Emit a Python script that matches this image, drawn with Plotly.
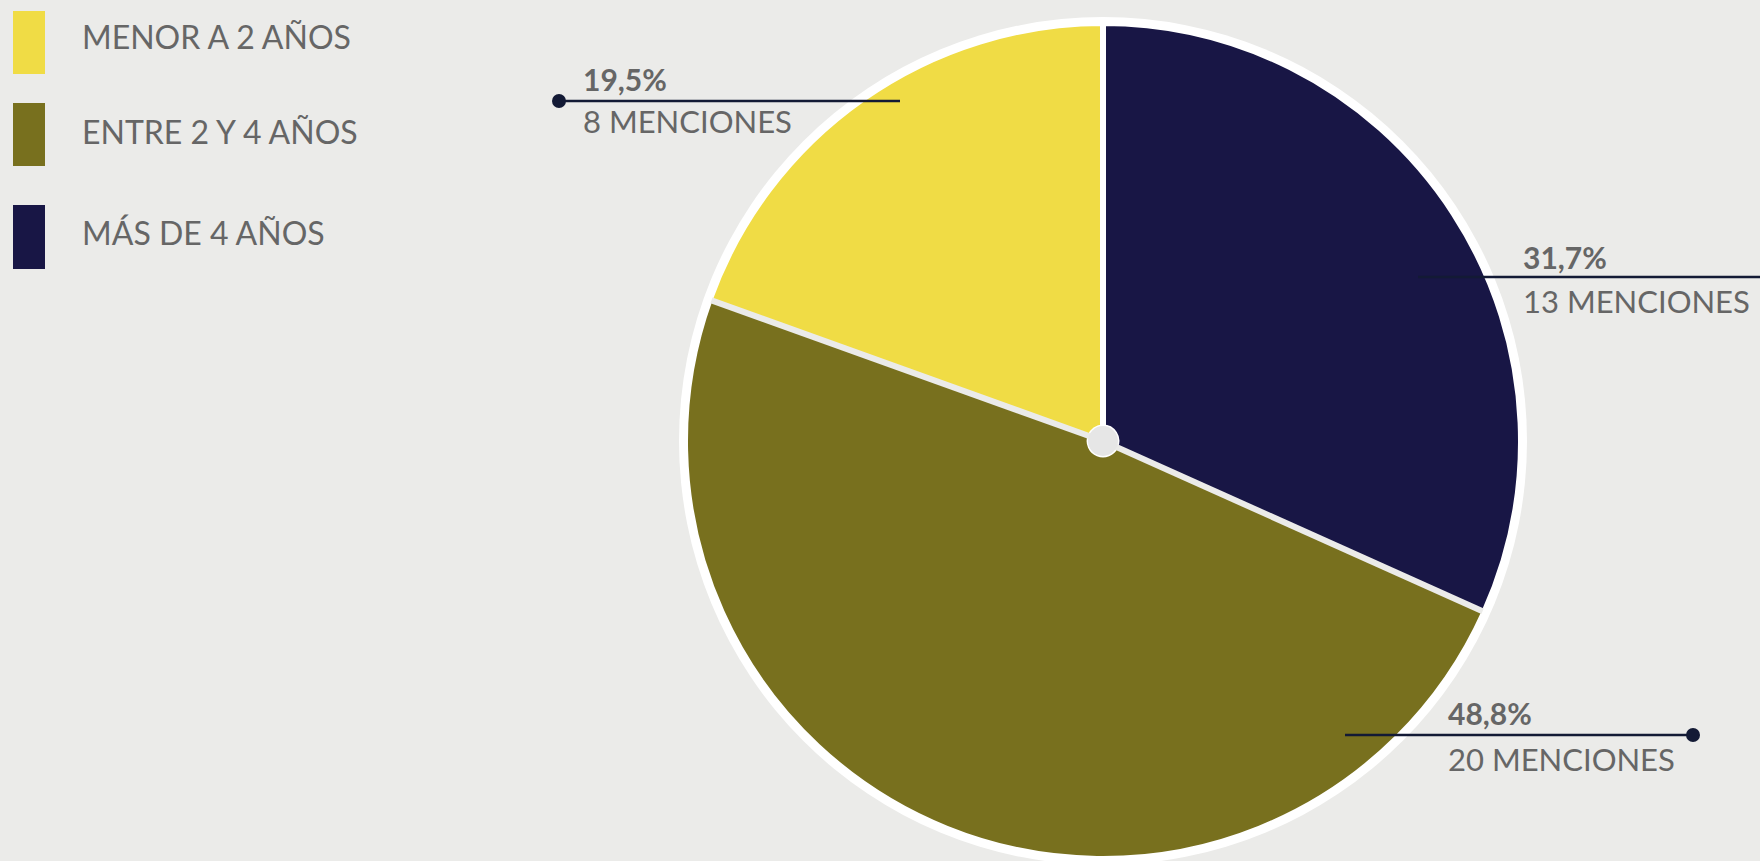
import math
import plotly.graph_objects as go

# ---- data ----
categories = ["MENOR A 2 AÑOS", "ENTRE 2 Y 4 AÑOS", "MÁS DE 4 AÑOS"]
menciones = [8, 20, 13]

# ---- style ----
W, H = 1760, 861
colors = ["#F0DC45", "#78701E", "#181645"]
bg = "#EBEBE9"
txt = "#666666"
line_col = "#131A35"
FONT = "Lato"

def px(x):
    return x / W

def py(y):
    return 1 - y / H

total = sum(menciones)
pcts = [v / total * 100 for v in menciones]

# pie geometry (pixels)
cx, cy, R_out, r = 1103, 441, 424, 416
rot = -pcts[0] * 3.6

fig = go.Figure()
fig.add_trace(go.Pie(
    labels=categories,
    values=menciones,
    sort=False,
    direction="counterclockwise",
    rotation=rot,
    hole=0.037,
    marker=dict(colors=colors, line=dict(color="white", width=2)),
    textinfo="none",
    hoverinfo="label+value+percent",
    showlegend=False,
    domain=dict(x=[px(cx - r), px(cx + r)], y=[py(cy + r), py(cy - r)]),
))

shapes = []
annotations = []

# white outer ring behind pie
shapes.append(dict(type="circle", xref="paper", yref="paper", layer="below",
                   x0=px(cx - R_out), x1=px(cx + R_out), y0=py(cy + R_out), y1=py(cy - R_out),
                   fillcolor="white", line=dict(width=0)))

# slice separators (boundary angles derived from the data)
bounds = [0.0]
acc = 0.0
for p in pcts[:-1]:
    acc += p * 3.6
    bounds.append(acc)
sep_colors = ["white", bg, bg]
for ang, sc in zip(bounds, sep_colors):
    a = math.radians(-ang)
    ex = cx + r * math.sin(a)
    ey = cy - r * math.cos(a)
    shapes.append(dict(type="line", xref="paper", yref="paper",
                       x0=px(cx), y0=py(cy), x1=px(ex), y1=py(ey),
                       line=dict(color=sc, width=6)))
# center dot
shapes.append(dict(type="circle", xref="paper", yref="paper",
                   x0=px(cx - 15), x1=px(cx + 15), y0=py(cy + 15), y1=py(cy - 15),
                   fillcolor="#E6E6E6", line=dict(width=0)))

# legend (manual, tall swatches)
leg_boxes = [(11, 74), (103, 166), (205, 269)]
leg_text_y = [37, 132, 232]
for cat, col, (y0, y1), ty in zip(categories, colors, leg_boxes, leg_text_y):
    shapes.append(dict(type="rect", xref="paper", yref="paper",
                       x0=px(13), x1=px(45), y0=py(y1), y1=py(y0),
                       fillcolor=col, line=dict(width=0)))
    annotations.append(dict(xref="paper", yref="paper", x=px(80), y=py(ty),
                            text=cat, showarrow=False, xanchor="left", yanchor="middle",
                            font=dict(family=FONT, size=32, color=txt)))

# leader labels: (line x0, line x1, line y, dot x or None, text x, pct y, count y)
label_pos = [
    (559, 900, 101, 559, 581, 79, 121),       # yellow
    (1345, 1693, 735, 1693, 1446, 713, 759),  # olive
    (1418, 1760, 277, None, 1521, 257, 301),  # navy
]
for v, p, (lx0, lx1, ly, dx, tx, ty1, ty2) in zip(menciones, pcts, label_pos):
    shapes.append(dict(type="line", xref="paper", yref="paper",
                       x0=px(lx0), x1=px(lx1), y0=py(ly), y1=py(ly),
                       line=dict(color=line_col, width=2.5)))
    if dx is not None:
        shapes.append(dict(type="circle", xref="paper", yref="paper",
                           x0=px(dx - 7), x1=px(dx + 7), y0=py(ly + 7), y1=py(ly - 7),
                           fillcolor=line_col, line=dict(width=0)))
    pct_txt = f"{p:.1f}".replace(".", ",") + "%"
    annotations.append(dict(xref="paper", yref="paper", x=px(tx), y=py(ty1),
                            text=f"<b>{pct_txt}</b>", showarrow=False,
                            xanchor="left", yanchor="middle",
                            font=dict(family=FONT, size=30, color=txt)))
    annotations.append(dict(xref="paper", yref="paper", x=px(tx), y=py(ty2),
                            text=f"{v} MENCIONES", showarrow=False,
                            xanchor="left", yanchor="middle",
                            font=dict(family=FONT, size=31, color=txt)))

fig.update_layout(
    width=W, height=H,
    margin=dict(l=0, r=0, t=0, b=0),
    paper_bgcolor=bg, plot_bgcolor=bg,
    shapes=shapes, annotations=annotations,
)

fig.write_html(
    "out.html",
    config={"displayModeBar": False},
    post_script="document.body.style.margin='0';document.body.style.overflow='hidden';",
)
